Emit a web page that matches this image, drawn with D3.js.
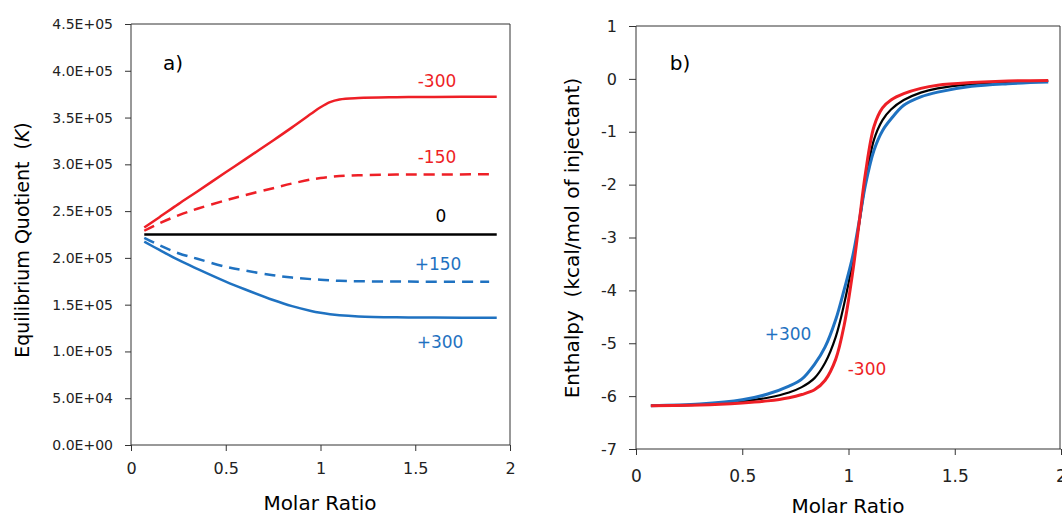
<!DOCTYPE html>
<html>
<head>
<meta charset="utf-8">
<script src="https://cdn.jsdelivr.net/npm/d3@7"></script>
<style>
  body { margin: 0; background: #fff; }
  svg { display: block; font-family: 'DejaVu Sans', sans-serif; }
  svg text { white-space: pre; }
  .axis path, .axis line { stroke: #333; }
  .axis text { fill: #222; }
</style>
</head>
<body>
<svg id="chart" width="1062" height="515"></svg>
<script>
// panel a) equilibrium quotient vs molar ratio
const ratioA = [0.07, 0.15, 0.25, 0.35, 0.5, 0.6, 0.75, 0.85, 0.95, 1.0, 1.05, 1.1, 1.2, 1.4, 1.6, 1.93]
const ratioDashed = [0.07, 0.15, 0.25, 0.35, 0.5, 0.6, 0.75, 0.85, 0.95, 1.0, 1.05, 1.1, 1.2, 1.4, 1.6, 1.89]
const kMinus300 = [232500, 243500, 257500, 271000, 291500, 305000, 325500, 339500, 354000, 361000, 366500, 369300, 370800, 371700, 372100, 372300]
const kMinus150 = [229000, 237000, 245500, 252500, 261500, 267000, 274500, 279500, 283800, 285300, 286500, 287400, 288300, 289000, 289200, 289300]
const kZero = [225000, 225000, 225000, 225000, 225000, 225000, 225000, 225000, 225000, 225000, 225000, 225000, 225000, 225000, 225000, 225000]
const kPlus150 = [221500, 213500, 205000, 199000, 190500, 186500, 181500, 179000, 177300, 176700, 176000, 175500, 175000, 174700, 174600, 174600]
const kPlus300 = [217300, 208500, 197800, 188300, 174700, 166500, 155000, 148400, 143300, 141300, 139700, 138600, 137400, 136500, 136200, 136000]
const kTicks = [0, 50000, 100000, 150000, 200000, 250000, 300000, 350000, 400000, 450000]

// panel b) enthalpy vs molar ratio
const ratioB = [0.07, 0.3, 0.5, 0.62, 0.72, 0.78, 0.84, 0.89, 0.94, 0.98, 1.02, 1.05, 1.08, 1.12, 1.16, 1.2, 1.26, 1.34, 1.42, 1.58, 1.75, 1.94]
const hPlus300 = [-6.18, -6.15, -6.07, -5.96, -5.81, -5.68, -5.4, -5.07, -4.55, -3.98, -3.35, -2.7, -2.0, -1.35, -0.98, -0.76, -0.5, -0.34, -0.25, -0.14, -0.09, -0.06]
const hZero = [-6.18, -6.16, -6.1, -6.03, -5.93, -5.83, -5.66, -5.37, -4.88, -4.25, -3.45, -2.75, -1.95, -1.15, -0.78, -0.58, -0.4, -0.26, -0.18, -0.1, -0.06, -0.04]
const hMinus300 = [-6.18, -6.17, -6.13, -6.09, -6.03, -5.97, -5.88, -5.7, -5.3, -4.65, -3.65, -2.72, -1.78, -0.9, -0.55, -0.4, -0.28, -0.18, -0.12, -0.07, -0.04, -0.03]
const hTicks = [1, 0, -1, -2, -3, -4, -5, -6, -7]

const ratioTicks = [0, 0.5, 1, 1.5, 2]

const red = '#ee1f26'
const blue = '#1f72c1'
const font = 'DejaVu Sans, sans-serif'

const svg = d3.select('#chart')

function frame (g, left, right, top, bottom) {
  g.append('line')
    .attr('x1', left).attr('x2', right)
    .attr('y1', top).attr('y2', top)
    .attr('stroke', '#333')
  g.append('line')
    .attr('x1', right).attr('x2', right)
    .attr('y1', top).attr('y2', bottom)
    .attr('stroke', '#333')
}

function drawLine (g, xs, ys, x, y, color, width, dash) {
  const line = d3.line()
    .x(d => x(d[0]))
    .y(d => y(d[1]))
    .curve(d3.curveCatmullRom.alpha(0.5))
  g.append('path')
    .datum(xs.map((v, i) => [v, ys[i]]))
    .attr('d', line)
    .attr('fill', 'none')
    .attr('stroke', color)
    .attr('stroke-width', width)
    .attr('stroke-dasharray', dash || null)
}

function label (g, px, py, text, color, size) {
  g.append('text')
    .attr('x', px).attr('y', py)
    .attr('text-anchor', 'middle')
    .style('font-size', size + 'px')
    .attr('fill', color)
    .text(text)
}

function styleAxis (a, size) {
  a.attr('font-family', font)
  a.selectAll('text').style('font-size', size + 'px')
}

const plain = d => String(d)

// ---- panel a
const ga = svg.append('g')
const xa = d3.scaleLinear().domain([0, 2]).range([131, 510])
const ya = d3.scaleLinear().domain([0, 450000]).range([445, 24])

ga.append('g')
  .attr('class', 'axis')
  .attr('transform', 'translate(0,445)')
  .call(d3.axisBottom(xa).tickValues(ratioTicks).tickSize(6).tickPadding(12).tickFormat(plain))
  .call(a => styleAxis(a, 16))
  .call(a => a.select('.domain').attr('d', 'M131,0H510'))

ga.append('g')
  .attr('class', 'axis')
  .attr('transform', 'translate(131,0)')
  .call(d3.axisLeft(ya).tickValues(kTicks).tickSize(6).tickPadding(12)
    .tickFormat(d => d3.format('.1e')(d).replace('e', 'E').replace(/([+-])(\d)$/, '$10$2')))
  .call(a => styleAxis(a, 14))
  .call(a => a.select('.domain').attr('d', 'M0,445V24'))

frame(ga, 131, 510, 24, 445)

drawLine(ga, ratioA, kZero, xa, ya, '#000', 2.5)
drawLine(ga, ratioDashed, kMinus150, xa, ya, red, 2.5, '11,7')
drawLine(ga, ratioDashed, kPlus150, xa, ya, blue, 2.5, '11,7')
drawLine(ga, ratioA, kMinus300, xa, ya, red, 2.5)
drawLine(ga, ratioA, kPlus300, xa, ya, blue, 2.5)

label(ga, 173, 70, 'a)', '#000', 20)
label(ga, 437, 87, '-300', red, 17)
label(ga, 437, 163, '-150', red, 17)
label(ga, 441, 222, '0', '#000', 17)
label(ga, 438, 270, '+150', blue, 17)
label(ga, 440, 348, '+300', blue, 17)

ga.append('text')
  .attr('x', 320).attr('y', 510)
  .attr('text-anchor', 'middle')
  .style('font-size', '20px')
  .text('Molar Ratio')

const yTitleA = ga.append('text')
  .attr('transform', 'translate(29,240) rotate(-90)')
  .attr('text-anchor', 'middle')
  .style('font-size', '19px')
yTitleA.append('tspan').text('Equilibrium Quotient  (')
yTitleA.append('tspan').attr('font-style', 'italic').text('K')
yTitleA.append('tspan').text(')')

// ---- panel b
const gb = svg.append('g')
const xb = d3.scaleLinear().domain([0, 2]).range([636, 1061])
const yb = d3.scaleLinear().domain([-7, 1]).range([449, 26])

gb.append('g')
  .attr('class', 'axis')
  .attr('transform', 'translate(0,449)')
  .call(d3.axisBottom(xb).tickValues(ratioTicks).tickSize(6).tickPadding(15).tickFormat(plain))
  .call(a => styleAxis(a, 17))
  .call(a => a.select('.domain').attr('d', 'M636,0H1061'))

gb.append('g')
  .attr('class', 'axis')
  .attr('transform', 'translate(636,0)')
  .call(d3.axisLeft(yb).tickValues(hTicks).tickSize(7).tickPadding(12).tickFormat(plain))
  .call(a => styleAxis(a, 16))
  .call(a => a.select('.domain').attr('d', 'M0,449V26'))

frame(gb, 636, 1060, 26, 449)

drawLine(gb, ratioB, hZero, xb, yb, '#000', 2.2)
drawLine(gb, ratioB, hPlus300, xb, yb, blue, 3)
drawLine(gb, ratioB, hMinus300, xb, yb, red, 3)

label(gb, 680, 70, 'b)', '#000', 20)
label(gb, 788, 340, '+300', blue, 17)
label(gb, 867, 375, '-300', red, 17)

gb.append('text')
  .attr('x', 848).attr('y', 513)
  .attr('text-anchor', 'middle')
  .style('font-size', '20px')
  .text('Molar Ratio')

gb.append('text')
  .attr('transform', 'translate(579,238) rotate(-90)')
  .attr('text-anchor', 'middle')
  .style('font-size', '20px')
  .text('Enthalpy  (kcal/mol of injectant)')
</script>
</body>
</html>
